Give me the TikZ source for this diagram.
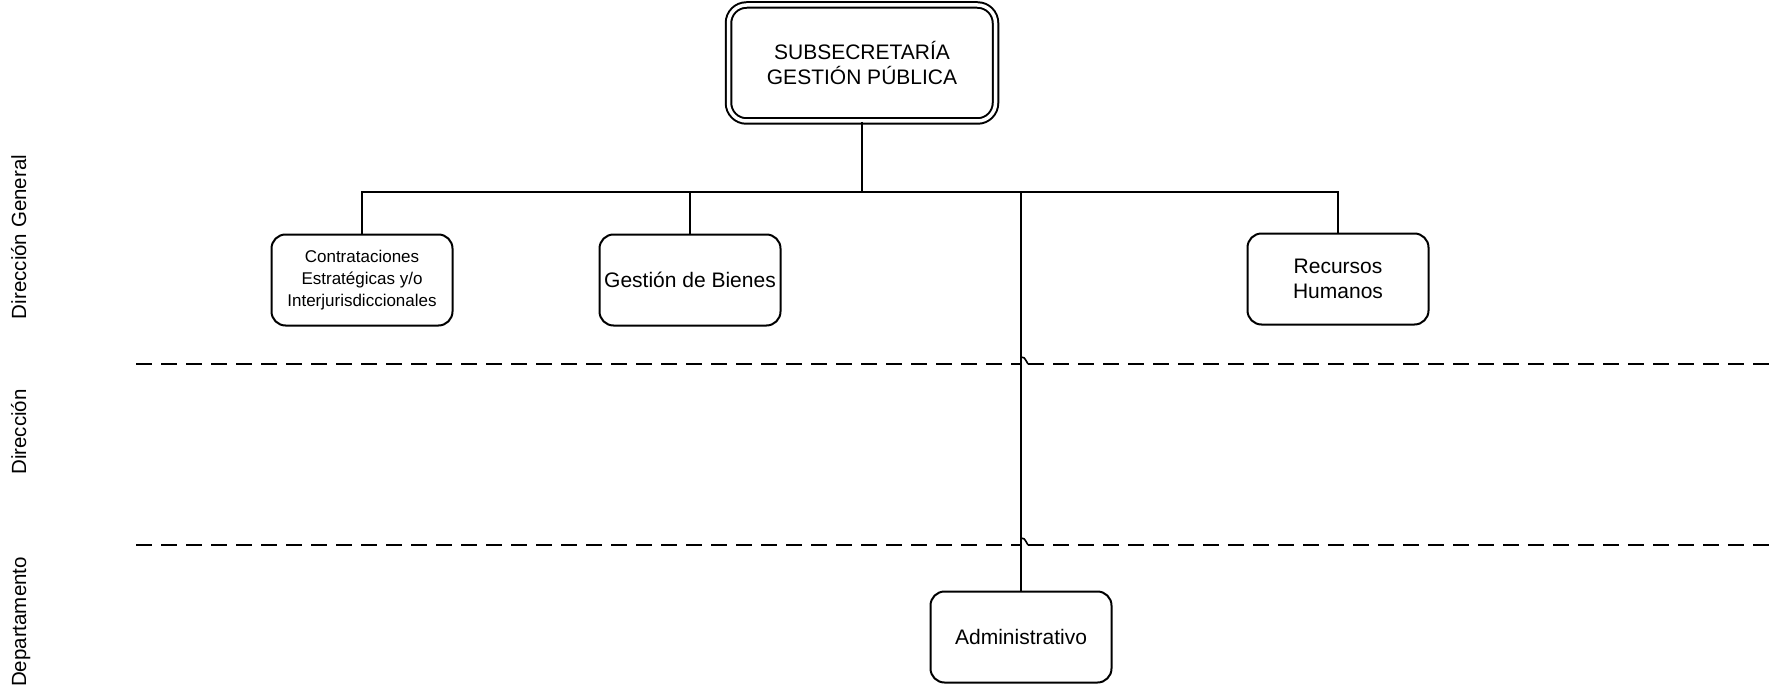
\documentclass[tikz,border=0pt]{standalone}
\usepackage{fontspec}
\setmainfont{Liberation Sans}

\begin{document}
\begin{tikzpicture}[x=1pt,y=-1pt,
		unit/.style={draw,line width=2pt,rounded corners=14pt,minimum width=181pt,minimum height=91pt,inner sep=2pt,align=center,font=\fontsize{21}{25}\selectfont},
		head/.style={unit,double,double distance=3.5pt,rounded corners=18pt,minimum width=267pt,minimum height=116pt},
		small/.style={font=\fontsize{17}{22}\selectfont},
		level/.style={rotate=90,anchor=base,font=\fontsize{20.5}{24}\selectfont},
		link/.style={line width=2pt},
		sep/.style={line width=2pt,dash pattern=on 16pt off 9pt},
		hop/.style={line width=1.6pt}]
	\useasboundingbox (0,0) rectangle (1771,698);
	% levels
	\node[level] (dg) at (26,237) {Dirección General};
	\node[level] (dir) at (26,432) {Dirección};
	\node[level] (dep) at (26,622) {Departamento};
	% units
	\node[head] (subsec) at (862,63) {SUBSECRETARÍA\\GESTIÓN PÚBLICA};
	\node[unit,small] (contr) at (362,280) {Contrataciones\\Estratégicas y/o\\Interjurisdiccionales};
	\node[unit] (bienes) at (690,280) {Gestión de Bienes};
	\node[unit] (rrhh) at (1338,279) {Recursos\\Humanos};
	\node[unit] (admin) at (1021,637) {Administrativo};
	% connectors
	\coordinate (bus) at (862,192);
	\draw[link] (subsec.south) -- (bus);
	\draw[link] (contr.north) |- (bus) -| (rrhh.north);
	\draw[link] (bienes.north) -- (bienes.north |- bus);
	\draw[link] (admin.north) -- (admin.north |- bus);
	% separators
	\foreach \y in {364,545} {
		\draw[sep] (136,\y) -- (1021,\y);
		\draw[hop] (1021,\y-7) .. controls (1024,\y-7) .. (1028,\y);
		\draw[sep] (1028,\y) -- (1771,\y);
	}
\end{tikzpicture}
\end{document}
